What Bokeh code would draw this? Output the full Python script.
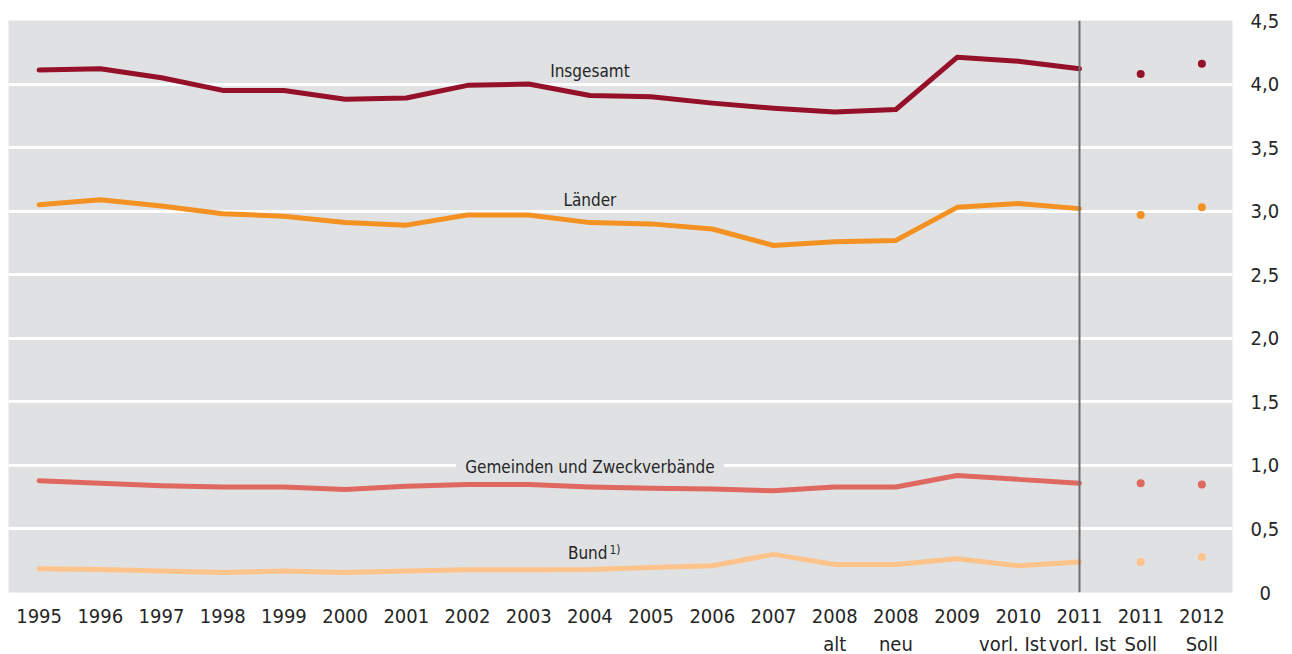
from bokeh.plotting import figure
from bokeh.models import Range1d, FixedTicker, Span
from bokeh.core.properties import value
from bokeh.embed import file_html
from bokeh.resources import INLINE

# ---- data ----
tick_labels = ["1995", "1996", "1997", "1998", "1999", "2000", "2001", "2002",
               "2003", "2004", "2005", "2006", "2007", "2008\nalt", "2008\nneu",
               "2009", "2010\nvorl. Ist\u00a0\u00a0", "2011\n\u00a0vorl. Ist",
               "2011\nSoll", "2012\nSoll"]

insgesamt = [4.11, 4.12, 4.05, 3.95, 3.95, 3.88, 3.89, 3.99, 4.00, 3.91,
             3.90, 3.85, 3.81, 3.78, 3.80, 4.21, 4.18, 4.12]
insgesamt_soll = [4.08, 4.16]

laender = [3.05, 3.09, 3.04, 2.98, 2.96, 2.91, 2.89, 2.97, 2.97, 2.91,
           2.90, 2.86, 2.73, 2.76, 2.77, 3.03, 3.06, 3.02]
laender_soll = [2.97, 3.03]

gemeinden = [0.88, 0.86, 0.84, 0.83, 0.83, 0.81, 0.835, 0.85, 0.85, 0.83,
             0.82, 0.815, 0.80, 0.83, 0.83, 0.92, 0.89, 0.86]
gemeinden_soll = [0.86, 0.85]

bund = [0.186, 0.18, 0.17, 0.157, 0.17, 0.157, 0.17, 0.178, 0.178, 0.18,
        0.197, 0.21, 0.30, 0.22, 0.22, 0.265, 0.21, 0.24]
bund_soll = [0.24, 0.28]

y_ticks = [0, 0.5, 1.0, 1.5, 2.0, 2.5, 3.0, 3.5, 4.0, 4.5]
y_tick_labels = ["\u20020", "0,5", "1,0", "1,5", "2,0", "2,5", "3,0", "3,5", "4,0", "4,5"]

series_names = ["Insgesamt", "Länder", "Gemeinden und Zweckverbände", "Bund"]
series_colors = ["#951029", "#f39223", "#df6861", "#fdc38a"]
label_y = [4.10, 3.09, 0.99, 0.31]
label_align = ["center", "center", "center", "right"]
label_dx = [0, 0, 0, 17.6]
footnote_mark = "1)"
line_data = [insgesamt, laender, gemeinden, bund]
soll_data = [insgesamt_soll, laender_soll, gemeinden_soll, bund_soll]

FONT = "DejaVu Sans Condensed"
BG = "#e0e1e3"
TXT = "#262626"

n = len(tick_labels)
p = figure(frame_width=1224, frame_height=572, output_backend="svg",
           toolbar_location=None,
           x_range=Range1d(-0.5, n - 0.5), y_range=Range1d(0, 4.5),
           y_axis_location="right", min_border_left=8, min_border_top=20,
           min_border_right=60, min_border_bottom=62)
p.background_fill_color = BG
p.border_fill_color = "white"
p.outline_line_color = None

p.xgrid.grid_line_color = None
p.ygrid.grid_line_color = "white"
p.ygrid.grid_line_width = 3
p.ygrid.ticker = FixedTicker(ticks=y_ticks)

xa = p.xaxis[0]
xa.ticker = FixedTicker(ticks=list(range(n)))
xa.major_label_overrides = {i: t for i, t in enumerate(tick_labels)}
xa.major_label_standoff = 5

ya = p.yaxis[0]
ya.ticker = FixedTicker(ticks=y_ticks)
ya.major_label_overrides = {t: l for t, l in zip(y_ticks, y_tick_labels)}
ya.major_label_standoff = 12

for ax in (xa, ya):
    ax.axis_line_color = None
    ax.major_tick_line_color = None
    ax.minor_tick_line_color = None
    ax.major_label_text_font = FONT
    ax.major_label_text_font_size = "20px"
    ax.major_label_text_color = TXT

xs = list(range(len(insgesamt)))
xs_soll = [len(insgesamt), len(insgesamt) + 1]
label_x = 9

# background patch behind the label that crosses a grid line
p.rect(x=[label_x], y=[label_y[2]], width=268, height=20, width_units="screen",
       height_units="screen", fill_color=BG, line_color=None)

for name, vals, soll, color, ly, al, dx in zip(series_names, line_data, soll_data,
                                               series_colors, label_y,
                                               label_align, label_dx):
    p.line(xs, vals, line_color=color, line_width=5,
           line_cap="round", line_join="round")
    p.scatter(xs_soll, soll, size=8, fill_color=color, line_color=None)
    p.text(x=[label_x], y=[ly], text=[name], text_align=al, x_offset=dx,
           text_baseline="middle", text_font=value(FONT),
           text_font_size="17px", text_color=TXT)

# footnote mark after "Bund"
p.text(x=[label_x], y=[label_y[3]], text=[footnote_mark], text_align="left",
       x_offset=19.5, y_offset=-3, text_baseline="middle",
       text_font=value(FONT), text_font_size="12px", text_color=TXT)

p.add_layout(Span(location=len(insgesamt) - 1, dimension="height",
                  line_color="#6e6e6e", line_width=2))

open("out.html", "w").write(file_html(p, INLINE))
